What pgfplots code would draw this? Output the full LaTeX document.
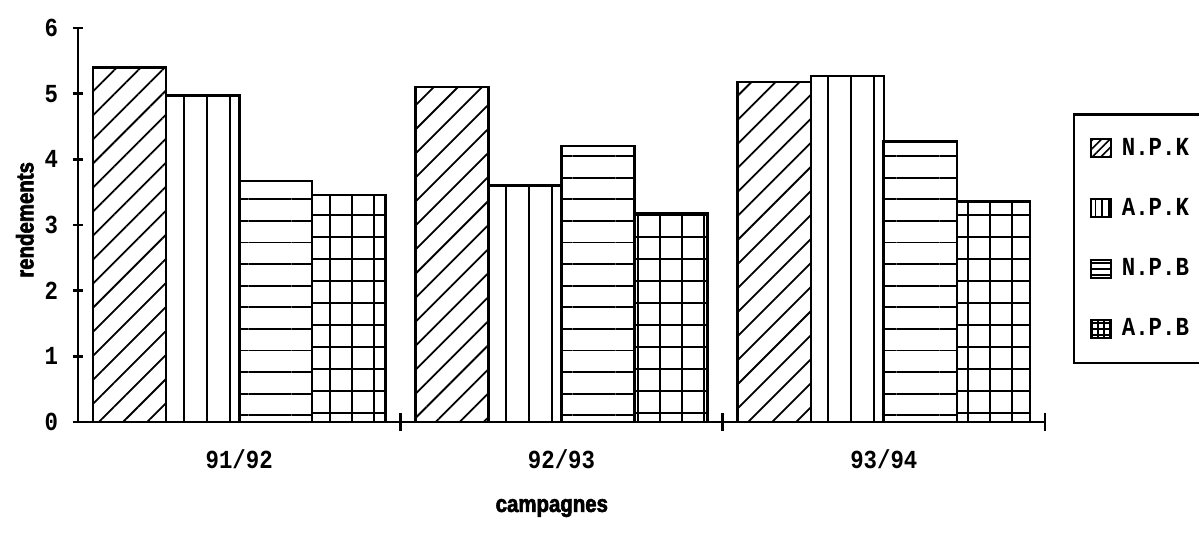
\documentclass[border=0pt]{standalone}
\usepackage{fontspec}
\usepackage{pgfplots}
\pgfplotsset{compat=1.18}
\usetikzlibrary{patterns.meta}
\setmainfont{Liberation Mono}[FakeStretch=0.86]
\newfontfamily\labelfont{Liberation Sans}[FakeStretch=0.85, FakeBold=2.5]
\begin{document}
\begin{tikzpicture}
\begin{axis}[
  name=ax,
  scale only axis, width=483.5pt, height=197pt,
  xmin=0, xmax=3, ymin=0, ymax=6,
  axis lines=left, axis line style={-, line width=1.3pt},
  ytick={0,1,2,3,4,5,6},
  xtick={0.5,1.5,2.5}, xticklabels={91/92,92/93,93/94},
  minor xtick={1,2,3},
  major x tick style={draw=none},
  tick align=center,
  major tick length=5pt, minor tick length=9pt,
  tick style={line width=1.3pt, black},
  /pgf/number format/assume math mode=true,
  ticklabel style={font=\bfseries\fontsize{13}{15}\selectfont},
  xticklabel style={yshift=-8pt},
  yticklabel style={xshift=-4pt},
  xlabel={\labelfont\bfseries campagnes}, ylabel={\labelfont\bfseries rendements},
  label style={font=\fontsize{12}{14}\selectfont},
  xlabel style={at={(axis description cs:0.49,0)}, anchor=center, yshift=-43pt},
  ylabel style={at={(axis description cs:-0.055,0.513)}, anchor=center},
  legend cell align=left,
  legend style={draw, line width=1.2pt, at={(1.029,0.784)}, anchor=north west,
    inner xsep=8pt, inner ysep=10pt, row sep=16pt, font=\bfseries\fontsize{13}{15}\selectfont,
    /tikz/every odd column/.append style={column sep=3pt}},
]
\addplot[ybar, bar width=0.227, bar shift=0pt, draw=black, line width=1.2pt,
  pattern={Lines[angle=45,distance=8.5pt,line width=0.9pt]}, forget plot]
  coordinates {(0.16,5.40) (1.16,5.10) (2.16,5.18)};
\addplot[ybar, bar width=0.227, bar shift=0pt, draw=black, line width=1.2pt,
  pattern={Lines[angle=90,distance=11.5pt,line width=0.9pt]}, forget plot]
  coordinates {(0.387,4.97) (1.387,3.60) (2.387,5.27)};
\addplot[ybar, bar width=0.227, bar shift=0pt, draw=black, line width=1.2pt,
  pattern={Lines[angle=0,distance=10.8pt,line width=0.9pt]}, forget plot]
  coordinates {(0.613,3.67) (1.613,4.20) (2.613,4.27)};
\addplot[ybar, bar width=0.227, bar shift=0pt, draw=black, line width=1.2pt,
  pattern={Hatch[angle=0,distance=11pt,line width=0.9pt]}, forget plot]
  coordinates {(0.84,3.46) (1.84,3.18) (2.84,3.36)};
\addlegendimage{legend image code/.code={\draw[line width=1pt, pattern={Lines[angle=45,distance=3pt,line width=0.8pt]}] (0pt,-4.5pt) rectangle (10pt,4.5pt);}}
\addlegendentry{N.P.K}
\addlegendimage{legend image code/.code={\draw[line width=1pt, pattern={Lines[angle=90,distance=3.3pt,line width=0.8pt]}] (0pt,-4.5pt) rectangle (10pt,4.5pt);}}
\addlegendentry{A.P.K}
\addlegendimage{legend image code/.code={\draw[line width=1pt, pattern={Lines[angle=0,distance=3pt,line width=0.8pt]}] (0pt,-4.5pt) rectangle (10pt,4.5pt);}}
\addlegendentry{N.P.B}
\addlegendimage{legend image code/.code={\draw[line width=1pt, pattern={Hatch[angle=0,distance=3pt,line width=0.8pt]}] (0pt,-4.5pt) rectangle (10pt,4.5pt);}}
\addlegendentry{A.P.B}
\end{axis}
\pgfresetboundingbox
\path[use as bounding box] ([xshift=-39pt,yshift=-61.5pt]ax.south west) rectangle ([xshift=560.5pt,yshift=211pt]ax.south west);
\end{tikzpicture}
\end{document}
